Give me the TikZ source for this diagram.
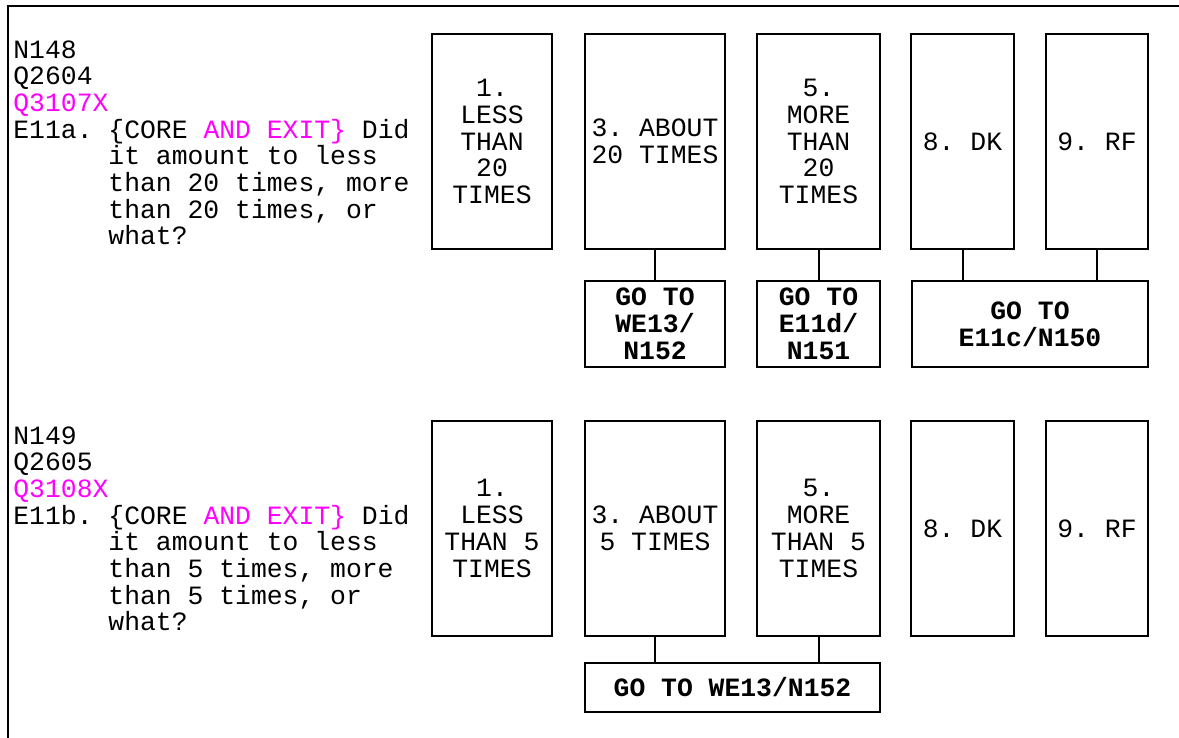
\documentclass[tikz,border=0pt]{standalone}
\usepackage{fontspec}
\newfontfamily\monofam{Liberation Mono}
\definecolor{mag}{RGB}{255,0,255}
\frenchspacing
\newcommand\optfont{\monofam\frenchspacing\fontsize{13.2}{13.4}\selectfont}
\newcommand\qfont{\monofam\frenchspacing\fontsize{13.2}{13.35}\selectfont}
\newcommand\gofont{\monofam\frenchspacing\bfseries\fontsize{13.2}{13.4}\selectfont}
\newcommand\ind{\hphantom{E11a. }}

\begin{document}
\begin{tikzpicture}[x=0.5pt, y=-0.5pt,
  optbox/.style={draw, line width=1pt, inner sep=0pt, align=center, font=\optfont,
                 minimum height=107.5pt},
  gobox/.style={draw, line width=1pt, inner sep=0pt, align=center, font=\gofont},
  qtext/.style={anchor=north west, inner sep=0pt, align=left, font=\qfont},
  link/.style={line width=1pt}]
\useasboundingbox (0,0) rectangle (1179,738);

% frame along the top and left edges
\draw[line width=1pt] (1179,6) -- (8,6) -- (8,738);

% ---- E11a ----
\node[qtext] (qa) at (13,40) {N148\\Q2604\\\textcolor{mag}{Q3107X}\\
  E11a. \{CORE \textcolor{mag}{AND EXIT\}} Did\\
  \ind it amount to less\\\ind than 20 times, more\\\ind than 20 times, or\\\ind what?};

\node[optbox, minimum width=60pt]   (a1) at (492,141.5)   {1.\\LESS\\THAN\\20\\TIMES};
\node[optbox, minimum width=70pt]   (a3) at (655,141.5)   {3. ABOUT\\20 TIMES};
\node[optbox, minimum width=61.5pt] (a5) at (818.5,141.5) {5.\\MORE\\THAN\\20\\TIMES};
\node[optbox, minimum width=51.5pt] (a8) at (962.5,141.5) {8. DK};
\node[optbox, minimum width=51pt]   (a9) at (1097,141.5)  {9. RF};

\node[gobox, minimum width=70pt, minimum height=43pt]   (ga1) at (655,324)   {GO TO\\WE13/\\N152};
\node[gobox, minimum width=61.5pt, minimum height=43pt] (ga2) at (818.5,324) {GO TO\\E11d/\\N151};
\node[gobox, minimum width=118pt, minimum height=43pt]  (ga3) at (1030,324)  {GO TO\\E11c/N150};

\draw[link] (a3.south) -- (ga1.north);
\draw[link] (a5.south) -- (ga2.north);
\draw[link] (a8.south) -- (a8.south |- ga3.north);
\draw[link] (a9.south) -- (a9.south |- ga3.north);

% ---- E11b ----
\node[qtext] (qb) at (13,426) {N149\\Q2605\\\textcolor{mag}{Q3108X}\\
  E11b. \{CORE \textcolor{mag}{AND EXIT\}} Did\\
  \ind it amount to less\\\ind than 5 times, more\\\ind than 5 times, or\\\ind what?};

\node[optbox, minimum width=60pt]   (b1) at (492,528.5)   {1.\\LESS\\THAN 5\\TIMES};
\node[optbox, minimum width=70pt]   (b3) at (655,528.5)   {3. ABOUT\\5 TIMES};
\node[optbox, minimum width=61.5pt] (b5) at (818.5,528.5) {5.\\MORE\\THAN 5\\TIMES};
\node[optbox, minimum width=51.5pt] (b8) at (962.5,528.5) {8. DK};
\node[optbox, minimum width=51pt]   (b9) at (1097,528.5)  {9. RF};

\node[gobox, minimum width=147.5pt, minimum height=24.5pt] (gb) at (732.5,687.5) {GO TO WE13/N152};

\draw[link] (b3.south) -- (b3.south |- gb.north);
\draw[link] (b5.south) -- (b5.south |- gb.north);
\end{tikzpicture}
\end{document}
